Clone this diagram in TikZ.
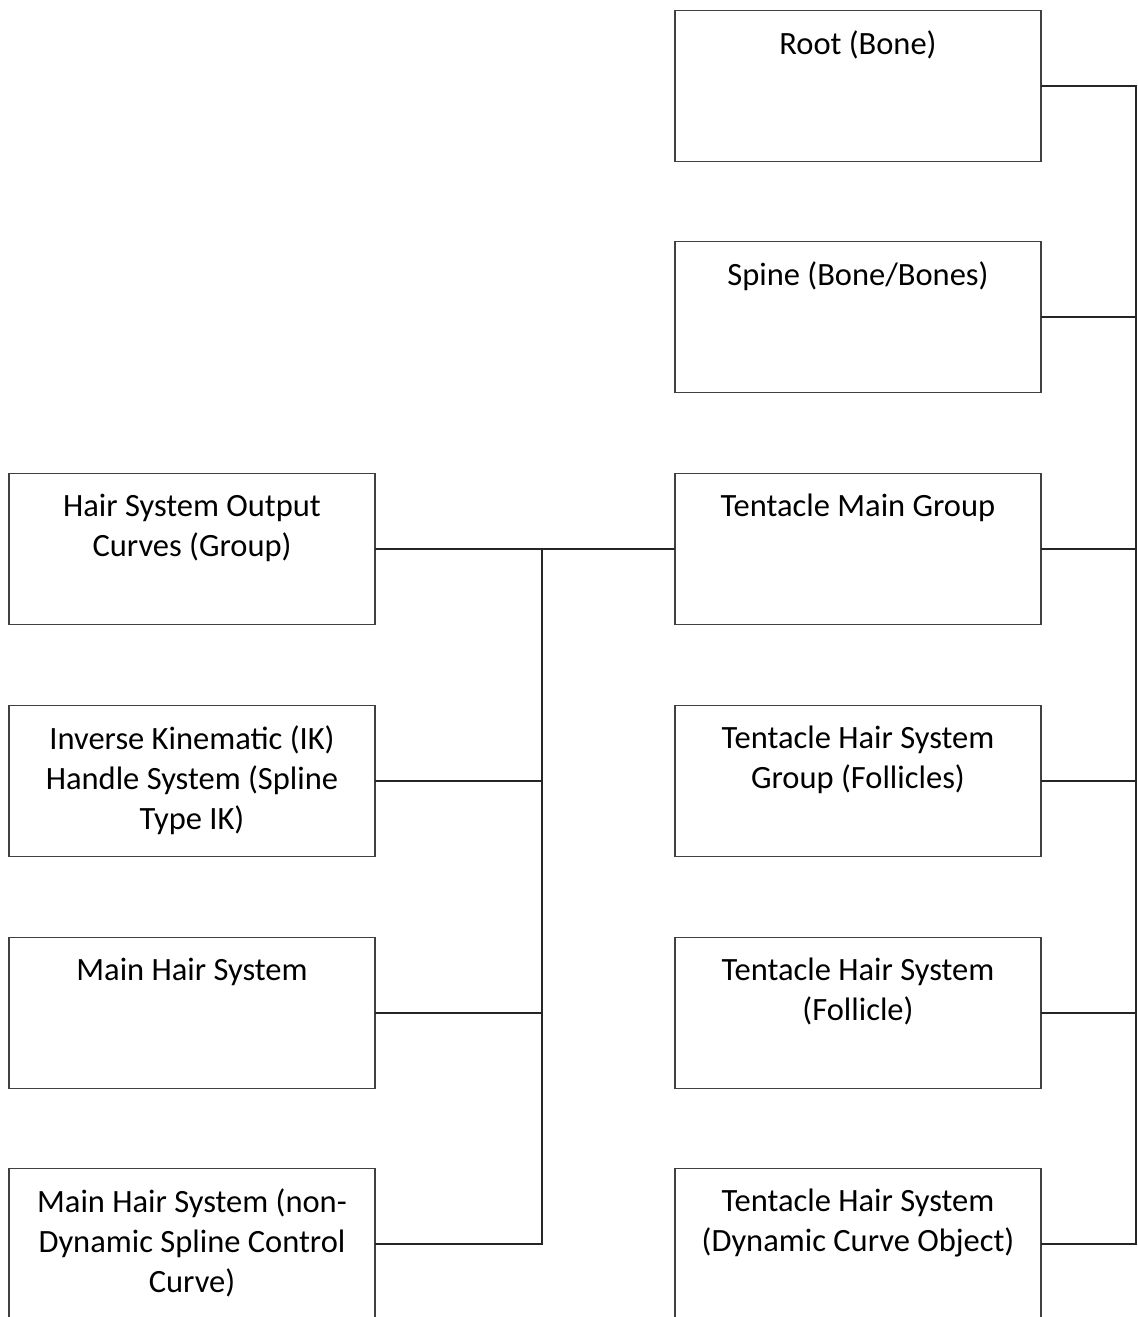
\documentclass[tikz,border=0pt]{standalone}
\usepackage{fontspec}
\setmainfont{Carlito}
\usetikzlibrary{positioning}
\tikzset{
  part/.style={draw=black!75,line width=1.1pt,minimum width=7.32cm,minimum height=3.02cm,inner sep=0pt},
  partlbl/.style={anchor=north,align=center,inner sep=0pt,yshift=-0.42cm,font=\fontsize{18.5pt}{22.8pt}\selectfont},
  wire/.style={line width=1.05pt,black!85,line cap=rect}
}
\begin{document}
\begin{tikzpicture}[x=0.02cm,y=-0.02cm]
  \clip (0,0) rectangle (1138,1317);
  % right column
  \node[part,label={[partlbl]north:Root (Bone)}] (root) at (858,86) {};
  \node[part,label={[partlbl]north:Spine (Bone/Bones)}] (spine) at (858,317) {};
  \node[part,label={[partlbl]north:Tentacle Main Group}] (tmain) at (858,549) {};
  \node[part,label={[partlbl]north:Tentacle Hair System\\Group (Follicles)}] (tfolgrp) at (858,781) {};
  \node[part,label={[partlbl]north:Tentacle Hair System\\(Follicle)}] (tfol) at (858,1013) {};
  \node[part,label={[partlbl]north:Tentacle Hair System\\(Dynamic Curve Object)}] (tdyn) at (858,1244) {};
  % left column
  \node[part,label={[partlbl]north:Hair System Output\\Curves (Group)}] (outcrv) at (192,549) {};
  \node[part,label={[partlbl]north:Inverse Kinematic (IK)\\Handle System (Spline\\Type IK)}] (ikh) at (192,781) {};
  \node[part,label={[partlbl]north:Main Hair System}] (mhair) at (192,1013) {};
  \node[part,label={[partlbl]north:Main Hair System (non-\\Dynamic Spline Control\\Curve)}] (mctrl) at (192,1244) {};
  % buses
  \coordinate (busR) at (1136,0);
  \coordinate (busL) at (542,0);
  \foreach \n in {root,spine,tmain,tfolgrp,tfol,tdyn} \draw[wire] (\n.east) -- (\n.east -| busR);
  \draw[wire] (root.east -| busR) -- (tdyn.east -| busR);
  \foreach \n in {outcrv,ikh,mhair,mctrl} \draw[wire] (\n.east) -- (\n.east -| busL);
  \draw[wire] (outcrv.east -| busL) -- (mctrl.east -| busL);
  \draw[wire] (outcrv.east -| busL) -- (tmain.west);
\end{tikzpicture}
\end{document}
